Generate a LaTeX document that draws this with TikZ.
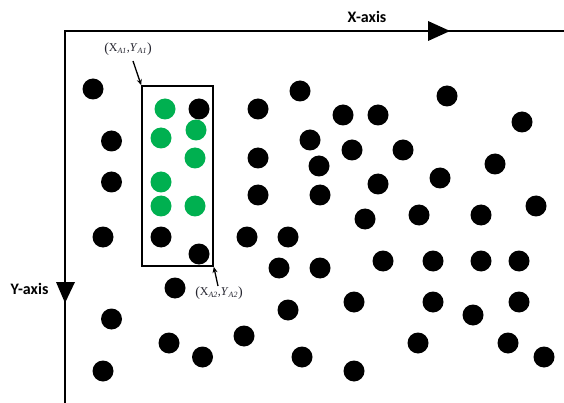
\documentclass[tikz,border=0pt]{standalone}
\usepackage{fontspec}
\setmainfont{Liberation Serif}
\newfontfamily\axisfont{Carlito}
\usetikzlibrary{arrows.meta}
\definecolor{dotgreen}{HTML}{00B050}
\definecolor{labelink}{HTML}{262630}
\newcommand{\bigparen}[1]{\raisebox{-0.5pt}{\fontsize{14}{14}\selectfont#1}}
\begin{document}
\begin{tikzpicture}[x=1pt,y=-1pt,
  bdot/.style={circle,fill=black,inner sep=0pt,minimum size=21pt},
  gdot/.style={bdot,fill=dotgreen},
  axisline/.style={line width=2pt,line join=miter},
  axislabel/.style={font=\axisfont\bfseries\fontsize{16}{18}\selectfont,inner sep=0pt},
  coordlabel/.style={font=\fontsize{12}{14}\selectfont,text=labelink,inner sep=0pt},
  pointer/.style={line width=1.3pt,-{Stealth[length=6pt,width=5pt]}},
  window/.style={draw,line width=1.6pt,inner sep=0pt,minimum width=71pt,minimum height=180pt}
]
\useasboundingbox (0,0) rectangle (564,403);

% axes
\coordinate (origin) at (65,31);
\coordinate (xend) at (566,31);
\coordinate (yend) at (65,405);
\draw[axisline] (xend) -- (origin) -- (yend);
\fill (428,21) -- (450,31) -- (428,41) -- cycle;
\fill (56,282) -- (75,282) -- (65,303) -- cycle;
\node[axislabel] (xlab) at (367,17) {X-axis};
\node[axislabel] (ylab) at (29.5,289) {Y-axis};

% selection window
\node[window] (win) at (177.5,176) {};
\node[coordlabel] (lab1) at (128,49) {\bigparen{(}X\textsubscript{\textit{A1}},\textit{Y}\textsubscript{\textit{A1}}\bigparen{)}};
\node[coordlabel] (lab2) at (219,293) {\bigparen{(}X\textsubscript{\textit{A2}},\textit{Y}\textsubscript{\textit{A2}}\bigparen{)}};
\coordinate (t1) at (133,61);
\coordinate (t2) at (218,286);
\draw[pointer] (t1) -- (win.north west);
\draw[pointer] (t2) -- (win.south east);

% points inside the window
\foreach \x/\y [count=\i] in {165/109,196/130,161/138,195/158,161/182,161/206,195/206}
  \node[gdot] (g\i) at (\x,\y) {};

% remaining points
\foreach \x/\y [count=\i] in {
  93/89, 199/109, 258/109, 300/91, 343/115, 378/115, 447/96, 522/122,
  111.5/141, 310/140, 352/150, 403/150, 258/158, 319/166, 495/164,
  111.5/182, 258/195, 320/195, 378/184, 440/178,
  365/219, 419/215, 481/215, 536/206,
  103/237, 161/237, 199/254, 247/237, 288/237,
  279/268, 320/268, 383/261, 433/261, 481/261, 519/261,
  175/288, 288/310, 354/302, 433/302, 473/315, 519/302,
  111.5/319, 169/343, 244/336, 202.5/357, 302/357, 354/371,
  418/343, 508/343, 544/357, 103/371}
  \node[bdot] (b\i) at (\x,\y) {};
\end{tikzpicture}
\end{document}
